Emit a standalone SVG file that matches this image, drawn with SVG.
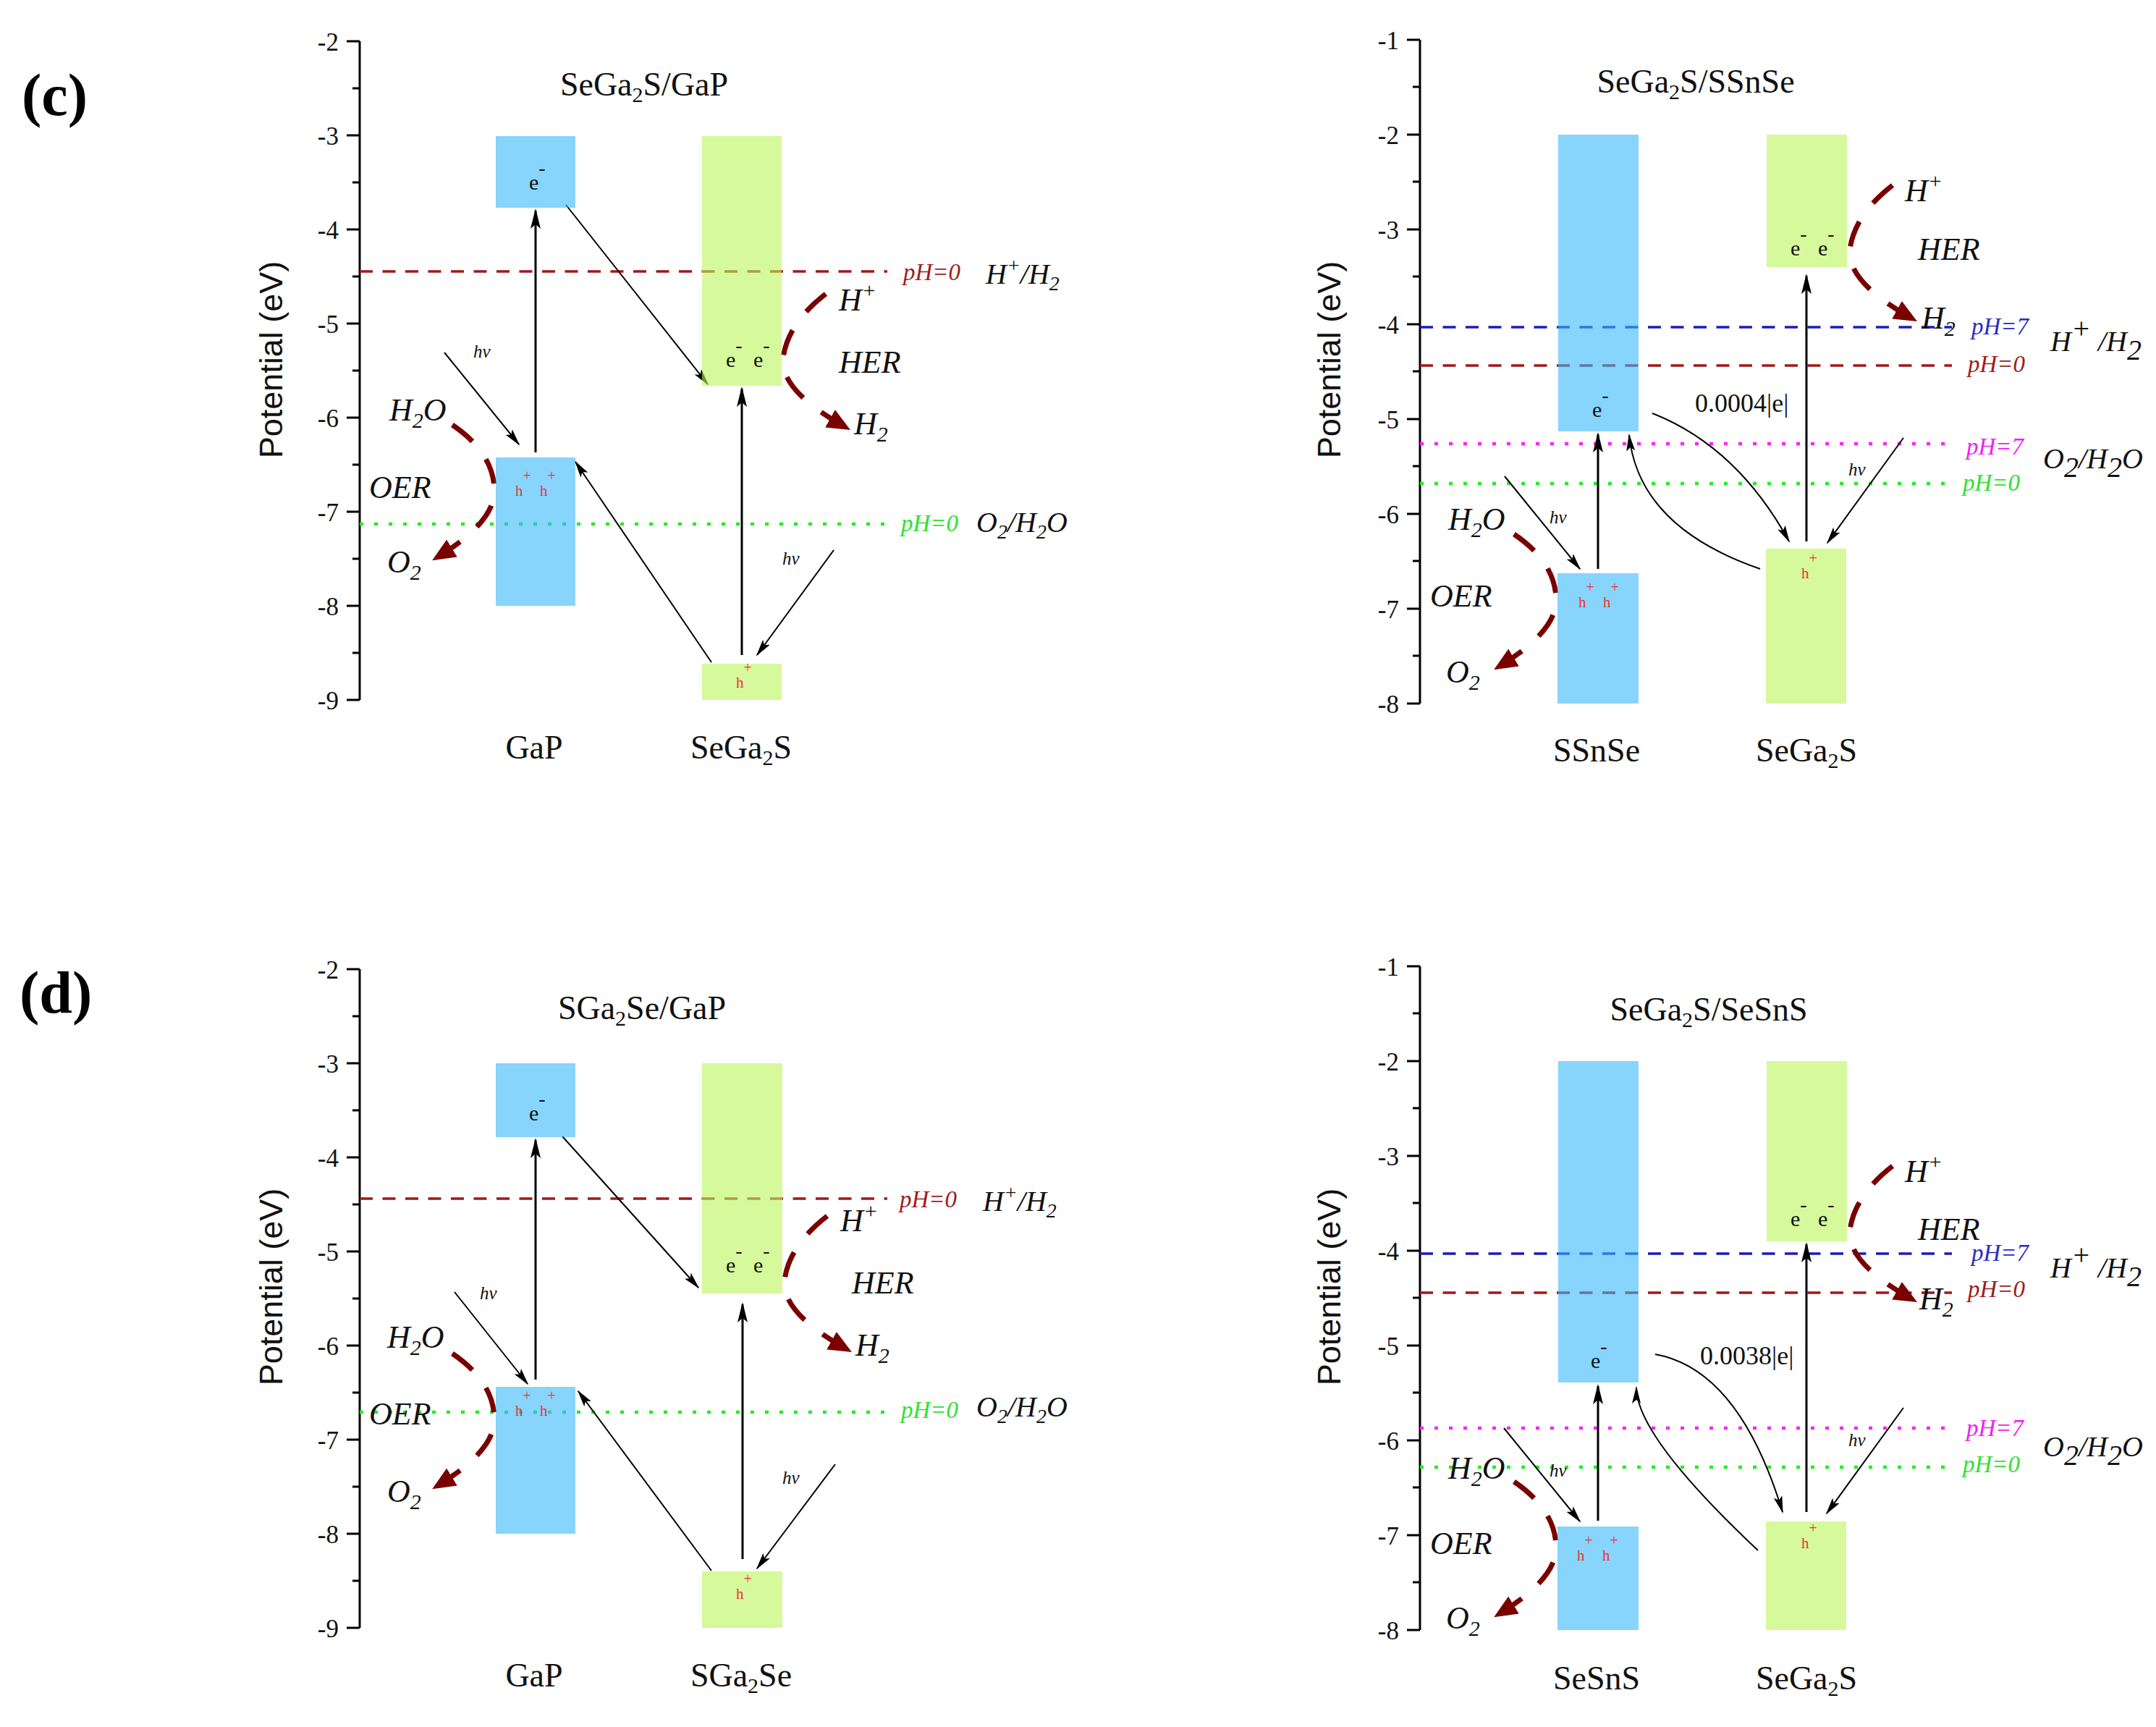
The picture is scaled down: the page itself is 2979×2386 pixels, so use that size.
<svg xmlns="http://www.w3.org/2000/svg" xmlns:xlink="http://www.w3.org/1999/xlink" width="2979" height="2386" viewBox="0 0 2979 2386">
<style>
.ax{stroke:#000;stroke-width:3;fill:none}
.tl{font-family:"Liberation Serif",serif;font-size:35px;text-anchor:end;fill:#111}
.yl{font-family:"Liberation Sans",Arial,sans-serif;font-size:45px;text-anchor:middle;fill:#111}
.ti{font-family:"Liberation Serif",serif;font-size:46px;text-anchor:middle;fill:#111}
.pl{font-family:"Liberation Serif",serif;font-size:82px;font-weight:bold;fill:#000}
.cb{fill:#37B7FA;fill-opacity:0.6}
.gb{fill:#BBF55A;fill-opacity:0.6}
.el{font-family:"Liberation Serif",serif;font-size:30px;fill:#111}
.hl{font-family:"Liberation Serif",serif;font-size:21px;fill:#F03030}
.it{font-family:"Liberation Serif",serif;font-style:italic;font-size:44px;fill:#111}
.lv{font-family:"Liberation Serif",serif;font-style:italic;font-size:40px;fill:#111}
.ph{font-family:"Liberation Serif",serif;font-style:italic;font-size:33px}
.hv{font-family:"Liberation Serif",serif;font-style:italic;font-size:25px;fill:#111}
.num{font-family:"Liberation Serif",serif;font-size:36px;fill:#111}
.rd{stroke:#A01818;stroke-width:3.5;stroke-dasharray:18 13.5;fill:none}
.bd{stroke:#1C1CB8;stroke-width:3.5;stroke-dasharray:18 13.5;fill:none}
.gd{stroke:#22EE22;stroke-width:4.5;stroke-dasharray:5 15;fill:none}
.md{stroke:#FF22FF;stroke-width:4.5;stroke-dasharray:5 15;fill:none}
.ar{stroke:#000;stroke-width:3;fill:none;marker-end:url(#ah)}
.at{stroke:#000;stroke-width:2;fill:none;marker-end:url(#ahs)}
.rx{fill:none;stroke:#7A0000;stroke-width:7;stroke-dasharray:15 13;marker-end:url(#rh)}
.cr{fill:#A01C1C}.cbl{fill:#2B2BC0}.cm{fill:#F020F0}.cg{fill:#30E030}
</style>
<defs>
<marker id="ah" viewBox="0 0 28 14" refX="25" refY="7" markerWidth="28" markerHeight="14" markerUnits="userSpaceOnUse" orient="auto"><path d="M0,0 L28,7 L0,14 L6,7 z" fill="#000"/></marker>
<marker id="ahs" viewBox="0 0 24 12" refX="22" refY="6" markerWidth="24" markerHeight="12" markerUnits="userSpaceOnUse" orient="auto"><path d="M0,0 L24,6 L0,12 L5,6 z" fill="#000"/></marker>
<marker id="rh" viewBox="0 0 32 28" refX="24" refY="14" markerWidth="32" markerHeight="28" markerUnits="userSpaceOnUse" orient="auto"><path d="M0,0 L32,14 L0,28 z" fill="#7A0000"/></marker>
<g id="her"><path class="rx" pathLength="100" d="M59,-89 Q6,-48 0,0 Q-4,45 86,95"/></g>
<g id="oer"><path class="rx" pathLength="100" d="M-58,-88 Q-2,-50 0,0 Q3,45 -79,95"/></g>
</defs>
<rect width="2979" height="2386" fill="#fff"/>

<!-- ================= PANEL c-left ================= -->
<g id="c-left">
<text class="pl" x="30" y="159">(c)</text>
<g id="cl-axis">
<path class="ax" d="M497,57V967 M479,57H497 M479,187H497 M479,317H497 M479,447H497 M479,577H497 M479,707H497 M479,837H497 M479,967H497 M487,122H497 M487,252H497 M487,382H497 M487,512H497 M487,642H497 M487,772H497 M487,902H497"/>
<text class="tl" x="468" y="70">-2</text><text class="tl" x="468" y="200">-3</text><text class="tl" x="468" y="330">-4</text><text class="tl" x="468" y="460">-5</text><text class="tl" x="468" y="590">-6</text><text class="tl" x="468" y="720">-7</text><text class="tl" x="468" y="850">-8</text><text class="tl" x="468" y="980">-9</text>
<text class="yl" transform="translate(390,497) rotate(-90)">Potential (eV)</text>
</g>
<text class="ti" x="890" y="132">SeGa<tspan font-size="30" dy="9">2</tspan><tspan dy="-9">S/GaP</tspan></text>
<g id="cl-levels">
<line class="rd" x1="497" y1="375" x2="1226" y2="375"/>
<line class="gd" x1="497" y1="724" x2="1226" y2="724"/>
<text class="ph cr" x="1248" y="387">pH=0</text>
<text class="lv" x="1362" y="392">H<tspan font-size="28" dy="-16">+</tspan><tspan dy="16">/H</tspan><tspan font-size="28" dy="9">2</tspan></text>
<text class="ph cg" x="1245" y="734">pH=0</text>
<text class="lv" x="1349" y="735">O<tspan font-size="28" dy="9">2</tspan><tspan dy="-9">/H</tspan><tspan font-size="28" dy="9">2</tspan><tspan dy="-9">O</tspan></text>
</g>
<g id="cl-connectors">
<line class="ar" x1="740" y1="625" x2="740" y2="291"/>
<line class="ar" x1="1025" y1="905" x2="1025" y2="537"/>
<line class="at" x1="782" y1="283" x2="978" y2="531"/>
<line class="at" x1="983" y1="915" x2="795" y2="638"/>
<line class="at" x1="614" y1="487" x2="717" y2="614"/>
<line class="at" x1="1152" y1="760" x2="1046" y2="905"/>
<use xlink:href="#her" x="1082" y="495"/>
<use xlink:href="#oer" x="683" y="675"/>
</g>
<g id="cl-gap-cb"><rect class="cb" x="685" y="188" width="110" height="99"/><text class="el" x="731" y="262">e<tspan font-size="28" dy="-21">-</tspan></text></g>
<g id="cl-gap-vb"><rect class="cb" x="685" y="632" width="110" height="205"/><text class="hl" x="712" y="685">h<tspan font-size="20" dy="-21">+</tspan></text><text class="hl" x="746" y="685">h<tspan font-size="20" dy="-21">+</tspan></text></g>
<g id="cl-sega2s-cb"><rect class="gb" x="970" y="188" width="110" height="345"/><text class="el" x="1003" y="507">e<tspan font-size="28" dy="-21">-</tspan></text><text class="el" x="1041" y="507">e<tspan font-size="28" dy="-21">-</tspan></text></g>
<g id="cl-sega2s-vb"><rect class="gb" x="970" y="917" width="110" height="50"/><text class="hl" x="1017" y="950">h<tspan font-size="20" dy="-21">+</tspan></text></g>
<g id="cl-labels">
<text class="hv" x="654" y="494">hv</text>
<text class="hv" x="1081" y="780">hv</text>
<text class="it" x="538" y="581">H<tspan font-size="30" dy="10">2</tspan><tspan dy="-10">O</tspan></text>
<text class="it" x="510" y="688">OER</text>
<text class="it" x="535" y="791">O<tspan font-size="30" dy="10">2</tspan></text>
<text class="it" x="1159" y="429">H<tspan font-size="30" dy="-18">+</tspan></text>
<text class="it" x="1159" y="515">HER</text>
<text class="it" x="1180" y="600">H<tspan font-size="30" dy="10">2</tspan></text>
<text class="ti" x="738" y="1048">GaP</text>
<text class="ti" x="1024" y="1048">SeGa<tspan font-size="30" dy="9">2</tspan><tspan dy="-9">S</tspan></text>
</g>
</g>

<!-- ================= PANEL d-left ================= -->
<g id="d-left">
<text class="pl" x="27" y="1399">(d)</text>
<g id="dl-axis">
<path class="ax" d="M497,1339V2249 M479,1339H497 M479,1469H497 M479,1599H497 M479,1729H497 M479,1859H497 M479,1989H497 M479,2119H497 M479,2249H497 M487,1404H497 M487,1534H497 M487,1664H497 M487,1794H497 M487,1924H497 M487,2054H497 M487,2184H497"/>
<text class="tl" x="468" y="1352">-2</text><text class="tl" x="468" y="1482">-3</text><text class="tl" x="468" y="1612">-4</text><text class="tl" x="468" y="1742">-5</text><text class="tl" x="468" y="1872">-6</text><text class="tl" x="468" y="2002">-7</text><text class="tl" x="468" y="2132">-8</text><text class="tl" x="468" y="2262">-9</text>
<text class="yl" transform="translate(390,1778) rotate(-90)">Potential (eV)</text>
</g>
<text class="ti" x="887" y="1408">SGa<tspan font-size="30" dy="9">2</tspan><tspan dy="-9">Se/GaP</tspan></text>
<g id="dl-levels">
<line class="rd" x1="497" y1="1656" x2="1226" y2="1656"/>
<line class="gd" x1="497" y1="1951" x2="1226" y2="1951"/>
<text class="ph cr" x="1243" y="1668">pH=0</text>
<text class="lv" x="1358" y="1673">H<tspan font-size="28" dy="-16">+</tspan><tspan dy="16">/H</tspan><tspan font-size="28" dy="9">2</tspan></text>
<text class="ph cg" x="1245" y="1959">pH=0</text>
<text class="lv" x="1349" y="1957">O<tspan font-size="28" dy="9">2</tspan><tspan dy="-9">/H</tspan><tspan font-size="28" dy="9">2</tspan><tspan dy="-9">O</tspan></text>
</g>
<g id="dl-connectors">
<line class="ar" x1="740" y1="1906" x2="740" y2="1575"/>
<line class="ar" x1="1026" y1="2154" x2="1026" y2="1802"/>
<line class="at" x1="777" y1="1570" x2="965" y2="1779"/>
<line class="at" x1="983" y1="2170" x2="799" y2="1922"/>
<line class="at" x1="628" y1="1785" x2="729" y2="1912"/>
<line class="at" x1="1154" y1="2023" x2="1046" y2="2167"/>
<use xlink:href="#her" x="1084" y="1769"/>
<use xlink:href="#oer" x="683" y="1958"/>
</g>
<g id="dl-gap-cb"><rect class="cb" x="685" y="1469" width="110" height="102"/><text class="el" x="731" y="1548">e<tspan font-size="28" dy="-21">-</tspan></text></g>
<g id="dl-gap-vb"><rect class="cb" x="685" y="1916" width="110" height="203"/><text class="hl" x="712" y="1956">h<tspan font-size="20" dy="-21">+</tspan></text><text class="hl" x="746" y="1956">h<tspan font-size="20" dy="-21">+</tspan></text></g>
<g id="dl-sga2se-cb"><rect class="gb" x="970" y="1469" width="111" height="318"/><text class="el" x="1003" y="1758">e<tspan font-size="28" dy="-21">-</tspan></text><text class="el" x="1041" y="1758">e<tspan font-size="28" dy="-21">-</tspan></text></g>
<g id="dl-sga2se-vb"><rect class="gb" x="970" y="2171" width="111" height="78"/><text class="hl" x="1017" y="2209">h<tspan font-size="20" dy="-21">+</tspan></text></g>
<g id="dl-labels">
<text class="hv" x="663" y="1795">hv</text>
<text class="hv" x="1081" y="2050">hv</text>
<text class="it" x="535" y="1862">H<tspan font-size="30" dy="10">2</tspan><tspan dy="-10">O</tspan></text>
<text class="it" x="510" y="1968">OER</text>
<text class="it" x="535" y="2075">O<tspan font-size="30" dy="10">2</tspan></text>
<text class="it" x="1161" y="1701">H<tspan font-size="30" dy="-18">+</tspan></text>
<text class="it" x="1177" y="1787">HER</text>
<text class="it" x="1182" y="1873">H<tspan font-size="30" dy="10">2</tspan></text>
<text class="ti" x="738" y="2330">GaP</text>
<text class="ti" x="1024" y="2330">SGa<tspan font-size="30" dy="9">2</tspan><tspan dy="-9">Se</tspan></text>
</g>
</g>

<!-- ================= PANEL c-right ================= -->
<g id="c-right">
<g id="cr-axis">
<path class="ax" d="M1962,55V972 M1944,55H1962 M1944,186H1962 M1944,317H1962 M1944,448H1962 M1944,579H1962 M1944,710H1962 M1944,841H1962 M1944,972H1962 M1952,120H1962 M1952,251H1962 M1952,382H1962 M1952,513H1962 M1952,644H1962 M1952,775H1962 M1952,906H1962"/>
<text class="tl" x="1933" y="68">-1</text><text class="tl" x="1933" y="199">-2</text><text class="tl" x="1933" y="330">-3</text><text class="tl" x="1933" y="461">-4</text><text class="tl" x="1933" y="592">-5</text><text class="tl" x="1933" y="723">-6</text><text class="tl" x="1933" y="854">-7</text><text class="tl" x="1933" y="985">-8</text>
<text class="yl" transform="translate(1852,497) rotate(-90)">Potential (eV)</text>
</g>
<text class="ti" x="2343" y="128">SeGa<tspan font-size="30" dy="9">2</tspan><tspan dy="-9">S/SSnSe</tspan></text>
<g id="cr-levels">
<line class="bd" x1="1962" y1="452" x2="2697" y2="452"/>
<line class="rd" x1="1962" y1="505" x2="2697" y2="505"/>
<line class="md" x1="1962" y1="613" x2="2697" y2="613"/>
<line class="gd" x1="1962" y1="668" x2="2697" y2="668"/>
<text class="ph cbl" x="2724" y="462">pH=7</text>
<text class="ph cr" x="2719" y="514">pH=0</text>
<text class="lv" x="2833" y="485">H<tspan dy="-18">+</tspan><tspan dy="18"> /H</tspan><tspan dy="12">2</tspan></text>
<text class="ph cm" x="2717" y="628">pH=7</text>
<text class="ph cg" x="2712" y="678">pH=0</text>
<text class="lv" x="2823" y="647">O<tspan dy="12">2</tspan><tspan dy="-12">/H</tspan><tspan dy="12">2</tspan><tspan dy="-12">O</tspan></text>
</g>
<g id="cr-connectors">
<line class="ar" x1="2208" y1="786" x2="2208" y2="600"/>
<line class="ar" x1="2496" y1="748" x2="2496" y2="381"/>
<line class="at" x1="2079" y1="658" x2="2183" y2="786"/>
<line class="at" x1="2630" y1="605" x2="2525" y2="750"/>
<path class="at" d="M2283,571 Q2400,617 2472,748"/>
<path class="at" d="M2432,786 Q2264,728 2251,601"/>
<use xlink:href="#her" x="2556" y="345"/>
<use xlink:href="#oer" x="2150" y="826"/>
</g>
<g id="cr-ssnse-cb"><rect class="cb" x="2153" y="186" width="111" height="410"/><text class="el" x="2200" y="576">e<tspan font-size="28" dy="-21">-</tspan></text></g>
<g id="cr-ssnse-vb"><rect class="cb" x="2152" y="792" width="112" height="180"/><text class="hl" x="2181" y="839">h<tspan font-size="20" dy="-21">+</tspan></text><text class="hl" x="2215" y="839">h<tspan font-size="20" dy="-21">+</tspan></text></g>
<g id="cr-sega2s-cb"><rect class="gb" x="2441" y="186" width="111" height="183"/><text class="el" x="2474" y="353">e<tspan font-size="28" dy="-21">-</tspan></text><text class="el" x="2512" y="353">e<tspan font-size="28" dy="-21">-</tspan></text></g>
<g id="cr-sega2s-vb"><rect class="gb" x="2440" y="758" width="111" height="214"/><text class="hl" x="2489" y="799">h<tspan font-size="20" dy="-21">+</tspan></text></g>
<g id="cr-labels">
<text class="num" x="2342" y="569">0.0004|e|</text>
<text class="hv" x="2141" y="723">hv</text>
<text class="hv" x="2554" y="657">hv</text>
<text class="it" x="2001" y="732">H<tspan font-size="30" dy="10">2</tspan><tspan dy="-10">O</tspan></text>
<text class="it" x="1976" y="838">OER</text>
<text class="it" x="1998" y="943">O<tspan font-size="30" dy="10">2</tspan></text>
<text class="it" x="2632" y="278">H<tspan font-size="30" dy="-18">+</tspan></text>
<text class="it" x="2650" y="359">HER</text>
<text class="it" x="2655" y="454">H<tspan font-size="30" dy="10">2</tspan></text>
<text class="ti" x="2206" y="1052">SSnSe</text>
<text class="ti" x="2496" y="1052">SeGa<tspan font-size="30" dy="9">2</tspan><tspan dy="-9">S</tspan></text>
</g>
</g>

<!-- ================= PANEL d-right ================= -->
<g id="d-right">
<g id="dr-axis">
<path class="ax" d="M1962,1335V2252 M1944,1335H1962 M1944,1466H1962 M1944,1597H1962 M1944,1728H1962 M1944,1859H1962 M1944,1990H1962 M1944,2121H1962 M1944,2252H1962 M1952,1400H1962 M1952,1531H1962 M1952,1662H1962 M1952,1793H1962 M1952,1924H1962 M1952,2055H1962 M1952,2186H1962"/>
<text class="tl" x="1933" y="1348">-1</text><text class="tl" x="1933" y="1479">-2</text><text class="tl" x="1933" y="1610">-3</text><text class="tl" x="1933" y="1741">-4</text><text class="tl" x="1933" y="1872">-5</text><text class="tl" x="1933" y="2003">-6</text><text class="tl" x="1933" y="2134">-7</text><text class="tl" x="1933" y="2265">-8</text>
<text class="yl" transform="translate(1852,1778) rotate(-90)">Potential (eV)</text>
</g>
<text class="ti" x="2361" y="1410">SeGa<tspan font-size="30" dy="9">2</tspan><tspan dy="-9">S/SeSnS</tspan></text>
<g id="dr-levels">
<line class="bd" x1="1962" y1="1732" x2="2697" y2="1732"/>
<line class="rd" x1="1962" y1="1786" x2="2697" y2="1786"/>
<line class="md" x1="1962" y1="1973" x2="2697" y2="1973"/>
<line class="gd" x1="1962" y1="2027" x2="2697" y2="2027"/>
<text class="ph cbl" x="2724" y="1742">pH=7</text>
<text class="ph cr" x="2719" y="1792">pH=0</text>
<text class="lv" x="2833" y="1765">H<tspan dy="-18">+</tspan><tspan dy="18"> /H</tspan><tspan dy="12">2</tspan></text>
<text class="ph cm" x="2717" y="1984">pH=7</text>
<text class="ph cg" x="2712" y="2034">pH=0</text>
<text class="lv" x="2823" y="2012">O<tspan dy="12">2</tspan><tspan dy="-12">/H</tspan><tspan dy="12">2</tspan><tspan dy="-12">O</tspan></text>
</g>
<g id="dr-connectors">
<line class="ar" x1="2208" y1="2101" x2="2208" y2="1915"/>
<line class="ar" x1="2496" y1="2089" x2="2496" y2="1719"/>
<line class="at" x1="2078" y1="1973" x2="2183" y2="2102"/>
<line class="at" x1="2630" y1="1945" x2="2524" y2="2091"/>
<path class="at" d="M2287,1871 Q2403,1892 2463,2089"/>
<path class="at" d="M2429,2142 Q2261,1984 2261,1917"/>
<use xlink:href="#her" x="2556" y="1700"/>
<use xlink:href="#oer" x="2150" y="2135"/>
</g>
<g id="dr-sesns-cb"><rect class="cb" x="2153" y="1466" width="111" height="444"/><text class="el" x="2198" y="1890">e<tspan font-size="28" dy="-21">-</tspan></text></g>
<g id="dr-sesns-vb"><rect class="cb" x="2152" y="2109" width="112" height="143"/><text class="hl" x="2179" y="2156">h<tspan font-size="20" dy="-21">+</tspan></text><text class="hl" x="2214" y="2156">h<tspan font-size="20" dy="-21">+</tspan></text></g>
<g id="dr-sega2s-cb"><rect class="gb" x="2441" y="1466" width="111" height="249"/><text class="el" x="2474" y="1694">e<tspan font-size="28" dy="-21">-</tspan></text><text class="el" x="2512" y="1694">e<tspan font-size="28" dy="-21">-</tspan></text></g>
<g id="dr-sega2s-vb"><rect class="gb" x="2440" y="2102" width="111" height="150"/><text class="hl" x="2489" y="2139">h<tspan font-size="20" dy="-21">+</tspan></text></g>
<g id="dr-labels">
<text class="num" x="2349" y="1885">0.0038|e|</text>
<text class="hv" x="2141" y="2040">hv</text>
<text class="hv" x="2554" y="1998">hv</text>
<text class="it" x="2001" y="2043">H<tspan font-size="30" dy="10">2</tspan><tspan dy="-10">O</tspan></text>
<text class="it" x="1976" y="2147">OER</text>
<text class="it" x="1998" y="2250">O<tspan font-size="30" dy="10">2</tspan></text>
<text class="it" x="2632" y="1633">H<tspan font-size="30" dy="-18">+</tspan></text>
<text class="it" x="2650" y="1713">HER</text>
<text class="it" x="2652" y="1809">H<tspan font-size="30" dy="10">2</tspan></text>
<text class="ti" x="2206" y="2334">SeSnS</text>
<text class="ti" x="2496" y="2334">SeGa<tspan font-size="30" dy="9">2</tspan><tspan dy="-9">S</tspan></text>
</g>
</g>
</svg>
